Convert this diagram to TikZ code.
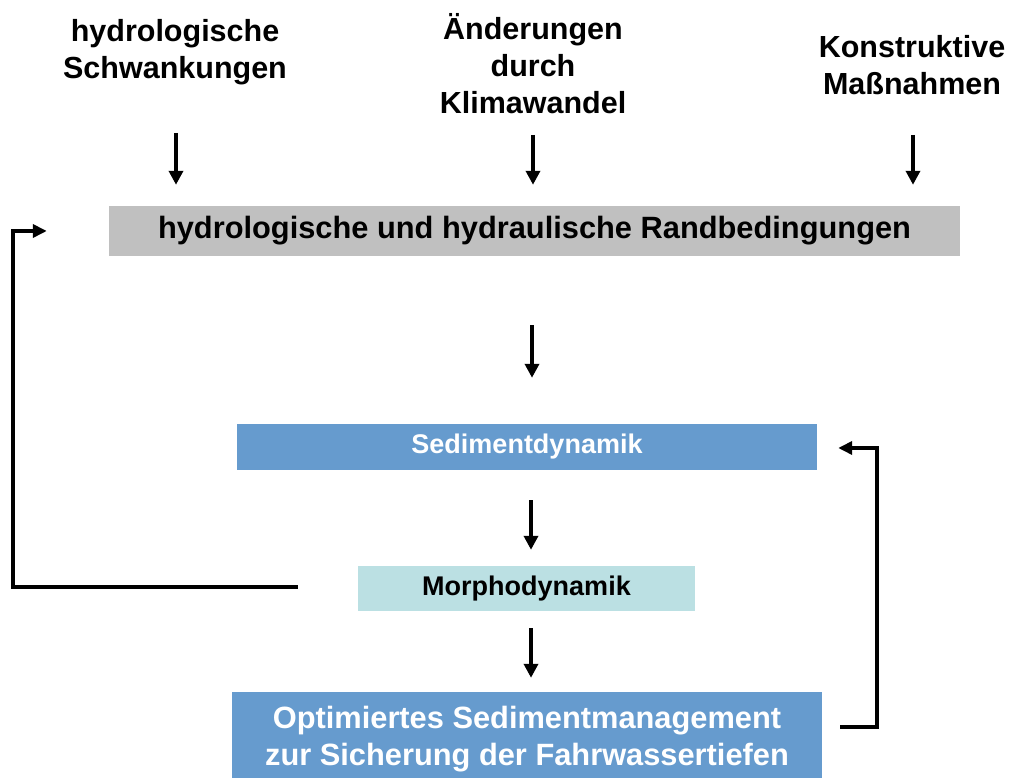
\documentclass[tikz,border=0pt]{standalone}
\usepackage{fontspec}
\setmainfont{Liberation Sans}
\usetikzlibrary{arrows.meta,calc}
\definecolor{boxgray}{RGB}{192,192,192}
\definecolor{boxblue}{RGB}{102,155,206}
\definecolor{boxcyan}{RGB}{187,224,227}
\tikzset{
  toptext/.style={align=center,font=\fontsize{30.5}{37}\selectfont\bfseries,inner sep=0pt},
  box/.style={inner sep=0pt,align=center,font=\bfseries},
  arr/.style={line width=3.6pt,-{Triangle[length=14pt,width=14pt]}},
  fb/.style={line width=3.8pt,-{Triangle[length=14pt,width=13pt]}}
}
\begin{document}
\begin{tikzpicture}[x=1pt,y=1pt]
\useasboundingbox (0,0) rectangle (1009,778);
% top texts
\node[toptext] (t1) at (175,726) {hydrologische\\Schwankungen};
\node[toptext] (t2) at (533,714) {Änderungen\\durch\\Klimawandel};
\node[toptext] (t3) at (912,713) {Konstruktive\\Maßnahmen};
% boxes
\node[box,fill=boxgray,minimum width=851,minimum height=50,font=\fontsize{30.8}{36}\selectfont\bfseries] (rb) at (534.5,547) {hydrologische und hydraulische Randbedingungen};
\node[box,fill=boxblue,text=white,minimum width=580,minimum height=46,font=\fontsize{27}{30}\selectfont\bfseries] (sd) at (527,331) {Sedimentdynamik};
\node[box,fill=boxcyan,minimum width=337,minimum height=45,font=\fontsize{27}{30}\selectfont\bfseries] (md) at (526.5,189.5) {Morphodynamik};
\node[box,fill=boxblue,minimum width=590,minimum height=88] (om) at (527,42) {};
\node[text=white,align=center,inner sep=0pt,font=\fontsize{30.8}{37}\selectfont\bfseries] (omt) at (527,39) {Optimiertes Sedimentmanagement\\zur Sicherung der Fahrwassertiefen};
% top arrows
\draw[arr] ($(t1 |- rb.north)+(1,73)$) -- ($(t1 |- rb.north)+(1,21)$);
\draw[arr] ($(t2 |- rb.north)+(0,71)$) -- ($(t2 |- rb.north)+(0,21)$);
\draw[arr] ($(t3 |- rb.north)+(1,71)$) -- ($(t3 |- rb.north)+(1,21)$);
% vertical chain
\draw[arr] ($(rb.south)+(-2.5,-69)$) -- ($(sd.north)+(5,46)$);
\draw[arr] ($(sd.south)+(4,-30)$) -- ($(md.north)+(4.5,16)$);
\draw[arr] ($(md.south)+(4.5,-17)$) -- ($(om.north)+(4,14)$);
% feedback loops
\draw[fb] ($(md.west)+(-60,1.5)$) -| (13,547) -- ($(rb.west)+(-62,0)$);
\draw[fb] ($(om.east)+(18,9)$) -| (877,330) -- ($(sd.east)+(21,-1)$);
\end{tikzpicture}
\end{document}
